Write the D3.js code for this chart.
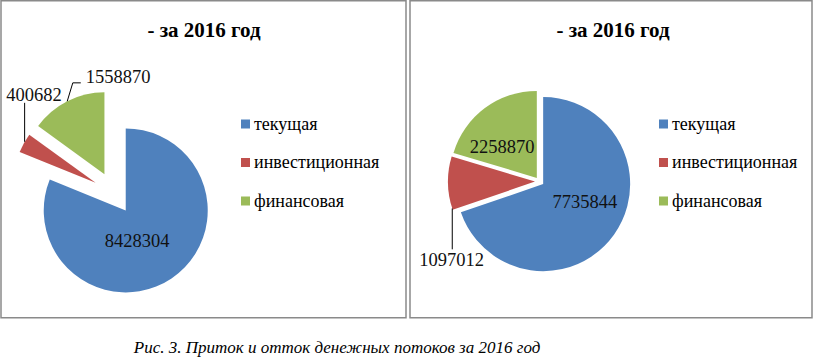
<!DOCTYPE html>
<html>
<head>
<meta charset="utf-8">
<script src="https://cdn.jsdelivr.net/npm/d3@7"></script>
<style>
    body { margin: 0; background: #fff; }
</style>
</head>
<body>
<svg id="mainSVG" width="814" height="364"></svg>
<script>
/* ------------------------------ DATA ------------------------------ */

let categories = ["текущая", "инвестиционная", "финансовая"]
let colors = ["#4F81BD", "#C0504D", "#9BBB59"]

let titles = ["- за 2016 год", "- за 2016 год"]
let valuesLeft = [8428304, 400682, 1558870]
let valuesRight = [7735844, 1097012, 2258870]

let caption = "Рис. 3. Приток и отток денежных потоков за 2016 год"

/* ----------------------------- LAYOUT ----------------------------- */

let FONT = "'Liberation Serif', 'Times New Roman', 'DejaVu Serif', monospace"
let BASE = 24 // draw text big and scale it down

// label: angle (deg, clockwise from top) and distance (x radius) from the slice's own vertex
let panels = [
    {
        x: 1, w: 405, title: titles[0], values: valuesLeft,
        cx: 114, cy: 193, r: 82, explode: 21, legendX: 240,
        labels: [
            { a: 159, f: 0.39 },
            { a: 325, f: 1.31, leader: "vertical", la: 300 },
            { a: 8, f: 1.2, leader: "elbow", la: 333 }
        ]
    },
    {
        x: 410, w: 402, title: titles[1], values: valuesRight,
        cx: 539.5, cy: 181.5, r: 87, explode: 4.5, legendX: 249,
        labels: [
            { a: 113, f: 0.52 },
            { a: 227, f: 1.31, leader: "vertical", la: 252 },
            { a: 312.5, f: 0.54 }
        ]
    }
]

let svg = d3.select("#mainSVG")
let rad = Math.PI / 180

function polar(cx, cy, deg, dist) {
    return [cx + dist * Math.sin(deg * rad), cy - dist * Math.cos(deg * rad)]
}

function addText(parent, x, y, size, str) {
    let k = size / BASE
    let t = parent.append('g')
        .attr('transform', `translate(${x},${y}) scale(${k})`)
        .append('text')
        .attr('font-family', FONT)
        .attr('font-size', BASE)
        .text(str)
    t.width = function () { return t.node().getComputedTextLength() * k }
    return t
}

let pie = d3.pie().sort(null).value(d => d)

for (let p of panels) {
    let g = svg.append('g')

    g.append('rect')
        .attr('x', p.x).attr('y', 0.75)
        .attr('width', p.w).attr('height', 317)
        .attr('fill', 'none')
        .attr('stroke', '#8a8a8a')
        .attr('stroke-width', 1.5)

    addText(g, p.x + 203, 37, 21, p.title)
        .attr('text-anchor', 'middle')
        .attr('font-weight', 'bold')

    let arcs = pie(p.values)
    let arc = d3.arc().innerRadius(0).outerRadius(p.r)

    arcs.forEach(function (d, i) {
        let mid = (d.startAngle + d.endAngle) / 2 / rad
        let [vx, vy] = polar(p.cx, p.cy, mid, p.explode)

        g.append('path')
            .attr('d', arc(d))
            .attr('transform', `translate(${vx},${vy})`)
            .attr('fill', colors[i])

        let lab = p.labels[i]
        let [lx, ly] = polar(vx, vy, lab.a, lab.f * p.r)
        let txt = addText(g, lx, ly + 6.5, 18.5, p.values[i])
            .attr('text-anchor', 'middle')
            .attr('fill', '#111')

        if (lab.leader) {
            let [ax, ay] = polar(vx, vy, lab.la, p.r)
            let tw = txt.width()
            let pts
            if (lab.leader == "vertical") {
                let ey = ay < ly ? ly - 10 : ly + 8
                pts = [[ax, ay], [ax, ey]]
            } else {
                let left = lx - tw / 2
                pts = [[ax, ay], [left - 13, ly + 6], [left - 5, ly + 6]]
            }
            g.append('path')
                .attr('d', d3.line()(pts))
                .attr('fill', 'none')
                .attr('stroke', '#000')
                .attr('stroke-width', 1)
        }
    })

    /* ---------------------- LEGEND ---------------------- */
    categories.forEach(function (c, i) {
        let y = 124 + i * 38.5
        g.append('rect')
            .attr('x', p.x + p.legendX).attr('y', y - 4.5)
            .attr('width', 9).attr('height', 9)
            .attr('fill', colors[i])
        addText(g, p.x + p.legendX + 13, y + 5.5, 18, c)
    })
}

addText(svg, 337, 353, 17, caption)
    .attr('text-anchor', 'middle')
    .attr('font-style', 'italic')
</script>
</body>
</html>
